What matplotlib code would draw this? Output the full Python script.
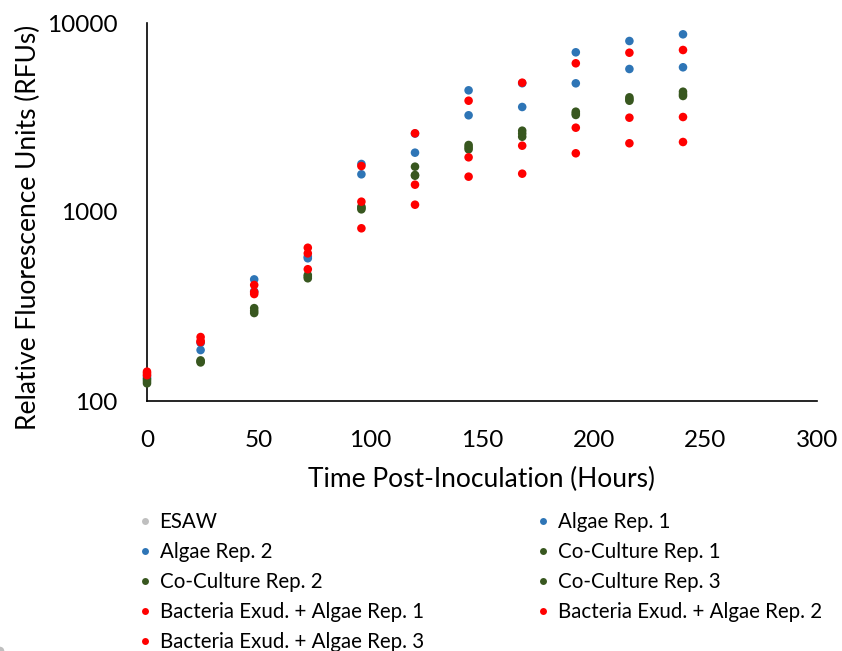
import matplotlib
matplotlib.use("Agg")
import matplotlib.pyplot as plt
from matplotlib.ticker import FixedLocator, FuncFormatter, NullLocator
from matplotlib.lines import Line2D

plt.rcParams['font.family'] = ['Lato', 'DejaVu Sans']

hours = [0, 24, 48, 72, 96, 120, 144, 168, 192, 216, 240]

esaw = []  # not visible within the plotted range
algae_rep1 = [135, 203, 440, 569, 1795, 2600, 4404, 4800, 6998, 8031, 8713]
algae_rep2 = [132, 186, 380, 580, 1583, 2060, 3249, 3594, 4796, 5710, 5830]
co_rep1 = [124, 160, 292, 446, 1033, 1556, 2146, 2502, 3262, 3880, 4110]
co_rep2 = [127, 162, 300, 455, 1050, 1570, 2200, 2600, 3320, 3950, 4200]
co_rep3 = [130, 164, 310, 464, 1067, 1737, 2262, 2693, 3394, 4043, 4330]
bact_rep1 = [143, 218, 411, 647, 1751, 2609, 3880, 4833, 6121, 6963, 7197]
bact_rep2 = [140, 208, 377, 604, 1134, 1395, 1947, 2243, 2793, 3155, 3181]
bact_rep3 = [137, 205, 368, 498, 820, 1093, 1538, 1595, 2045, 2310, 2346]

x_ticks = [0, 50, 100, 150, 200, 250, 300]
y_ticks = [100, 1000, 10000]

GRAY = '#BFBFBF'
BLUE = '#2E75B6'
GREEN = '#38571F'
RED = '#FF0000'

series = [
    ("ESAW", esaw, GRAY),
    ("Algae Rep. 1", algae_rep1, BLUE),
    ("Algae Rep. 2", algae_rep2, BLUE),
    ("Co-Culture Rep. 1", co_rep1, GREEN),
    ("Co-Culture Rep. 2", co_rep2, GREEN),
    ("Co-Culture Rep. 3", co_rep3, GREEN),
    ("Bacteria Exud. + Algae Rep. 1", bact_rep1, RED),
    ("Bacteria Exud. + Algae Rep. 2", bact_rep2, RED),
    ("Bacteria Exud. + Algae Rep. 3", bact_rep3, RED),
]

fig = plt.figure(figsize=(8.42, 6.51), dpi=100)
ax = fig.add_axes([147/842, 1 - 401/651, (817-147)/842, (401-23)/651])

handles = {}
for name, vals, col in series:
    xs = hours[:len(vals)]
    ax.scatter(xs, vals, s=38, color=col, edgecolors='none', zorder=3, clip_on=False)
    handles[name] = Line2D([], [], linestyle='none', marker='o', markersize=5,
                           markerfacecolor=col, markeredgecolor='none')

ax.set_yscale('log')
ax.set_ylim(100, 10000)
ax.set_xlim(0, 300)
ax.yaxis.set_major_locator(FixedLocator(y_ticks))
ax.yaxis.set_minor_locator(NullLocator())
ax.yaxis.set_major_formatter(FuncFormatter(lambda v, p: f"{int(round(v))}"))
ax.xaxis.set_major_locator(FixedLocator(x_ticks))

for s in ['top', 'right']:
    ax.spines[s].set_visible(False)
for s in ['left', 'bottom']:
    ax.spines[s].set_linewidth(1.2)
    ax.spines[s].set_color('black')

ax.tick_params(axis='both', length=0, labelsize=17.5, colors='black')
ax.tick_params(axis='y', pad=21)
ax.tick_params(axis='x', pad=21)

ax.set_xlabel("Time Post-Inoculation (Hours)", fontsize=19)
ax.set_ylabel("Relative Fluorescence Units (RFUs)", fontsize=19)
ax.xaxis.set_label_coords(0.5, (401 - 467) / 378)
ax.yaxis.set_label_coords((41 - 147) / 670, 0.46)

order = ["ESAW", "Algae Rep. 2", "Co-Culture Rep. 2", "Bacteria Exud. + Algae Rep. 1",
         "Bacteria Exud. + Algae Rep. 3",
         "Algae Rep. 1", "Co-Culture Rep. 1", "Co-Culture Rep. 3", "Bacteria Exud. + Algae Rep. 2"]
leg = fig.legend([handles[n] for n in order], order, ncol=2, loc='upper left',
                 bbox_to_anchor=(137/842, 1 - 512/651), frameon=False, fontsize=14.8,
                 handlelength=0.8, handletextpad=0.3, columnspacing=5.42,
                 labelspacing=0.49, borderaxespad=0, borderpad=0)

fig.savefig("out.png", dpi=100)
